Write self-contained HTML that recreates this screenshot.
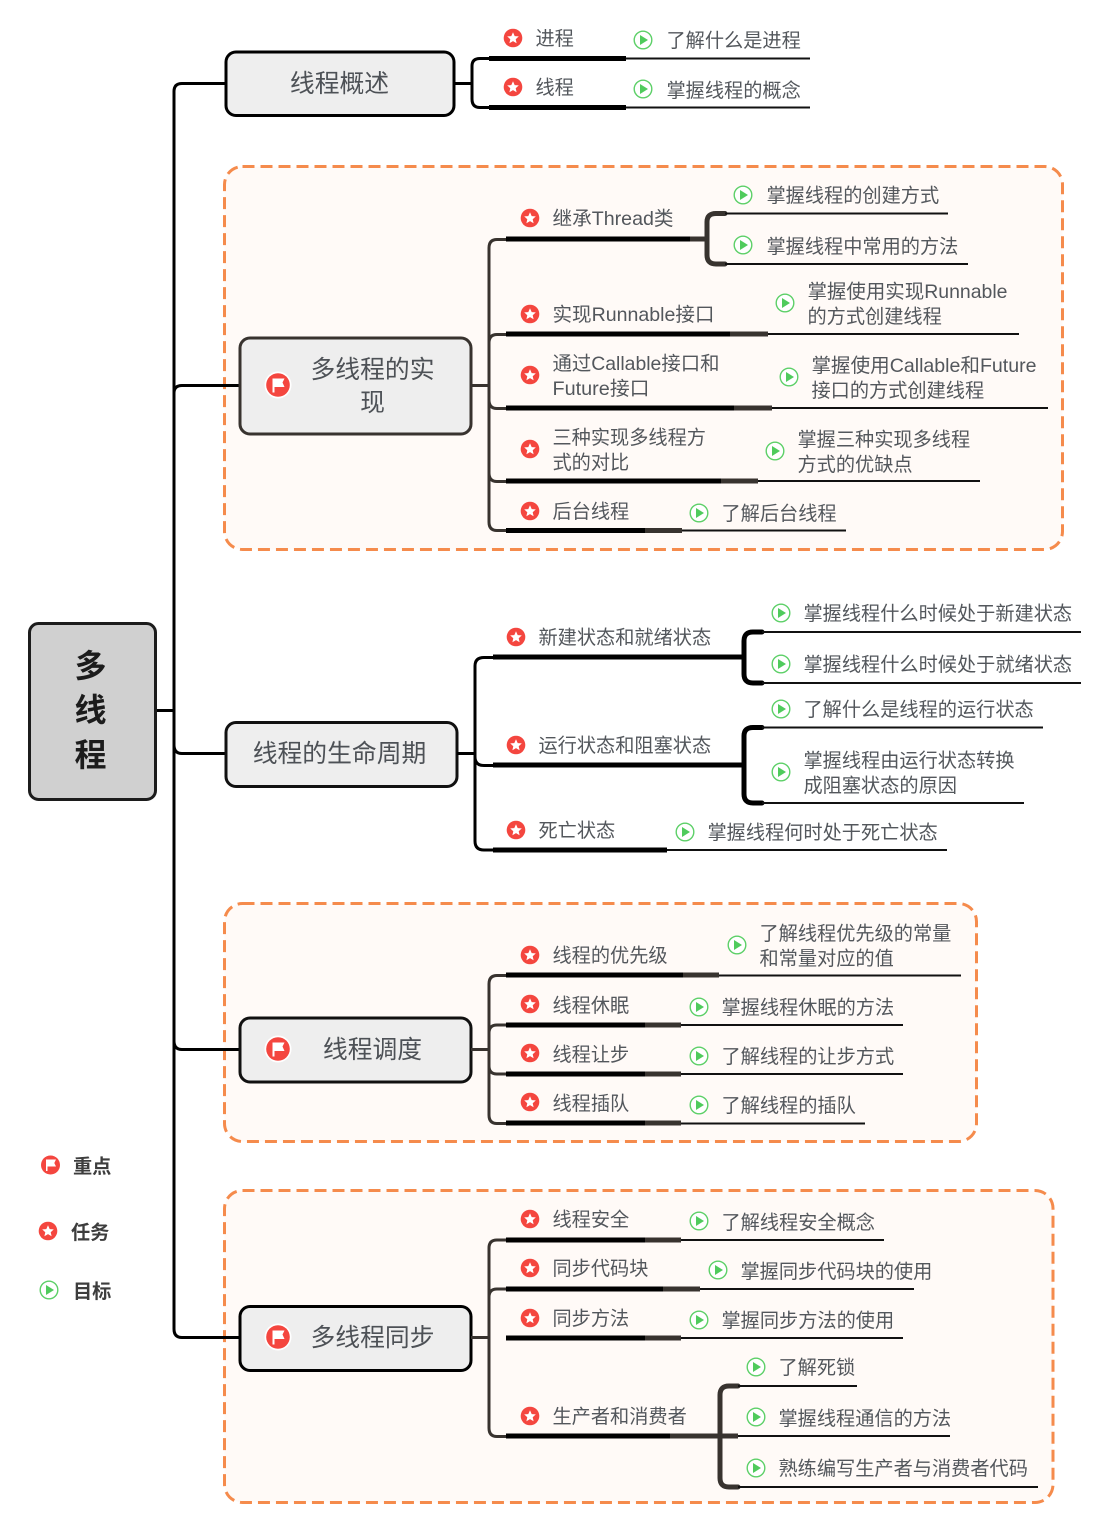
<!DOCTYPE html>
<html><head><meta charset="utf-8">
<style>
html,body{margin:0;padding:0;background:#fff}
svg{display:block}
text{font-family:"Liberation Sans","Noto Sans CJK SC",sans-serif;font-size:19.2px;fill:#53575c;transform:translateX(-.5px)}
.t{font-size:24.8px;text-anchor:middle;fill:#4d5156}
.r{font-size:32px;font-weight:bold;text-anchor:middle;fill:#1c1c1c}
.l{font-weight:bold;fill:#3d3d3d}
.g{fill:#fffaf7;stroke:#f58b4c;stroke-width:3;stroke-dasharray:12 6}
.b{fill:#eee;stroke-width:3}
.k{fill:none;stroke:#000;stroke-width:3}
.c{fill:none;stroke:#38332f;stroke-width:3}
.h{stroke:#000;stroke-width:5}
.d{stroke:#38332f;stroke-width:5}
.n{stroke:#111;stroke-width:2}
.br{fill:none;stroke:#38332f;stroke-width:5;stroke-linecap:round}
.bk{fill:none;stroke:#000;stroke-width:5;stroke-linecap:round}
</style></head><body>
<svg width="1105" height="1524" viewBox="0 0 1105 1524" xmlns="http://www.w3.org/2000/svg">
<defs>
<g id="s"><circle r="9.3" fill="#f4463f"/><polygon fill="#fff" points="0,-5.8 1.7,-1.9 5.8,-1.6 2.7,1.2 3.6,5.2 0,3.1 -3.6,5.2 -2.7,1.2 -5.8,-1.6 -1.7,-1.9"/></g>
<g id="p"><circle r="8.8" fill="#fff" stroke="#5dd068" stroke-width="1.4"/><polygon fill="#4fcb5c" points="-3,-5 5,0 -3,5"/></g>
<g id="f"><circle r="9.5" fill="#f4463f"/><path fill="#fff" d="M-4.5,-5.5H5.5L3.8,-2L5.5,1.5H-3V6H-4.5Z"/></g>
<g id="F"><circle r="13.5" fill="#fff"/><circle r="11.8" fill="#f4463f"/><path fill="#fff" d="M-5.5,-6.500H6.500L4.500,-2.500L6.500,2H-3.500V7.500H-5.500Z"/></g>
</defs>

<!-- groups -->
<rect class="g" x="224.500" y="166.500" width="838" height="383" rx="18"/>
<rect class="g" x="224.500" y="903.500" width="752" height="238" rx="18"/>
<rect class="g" x="224.500" y="1190.500" width="828.500" height="312" rx="18"/>

<!-- trunk -->
<path class="k" d="M156,710.500H174M226,83.500H182Q174,83.500 174,91.500V1329Q174,1337.500 182,1337.500H240M174,393Q174,385.500 182,385.500H240M174,745Q174,753.500 182,753.500H226M174,1041Q174,1049.500 182,1049.500H240"/>

<!-- root -->
<rect x="29.500" y="623.500" width="126" height="176" rx="9" fill="#d0d0d0" stroke="#1c1c1c" stroke-width="3"/>
<text class="r" x="91" y="677">多</text>
<text class="r" x="91" y="721">线</text>
<text class="r" x="91" y="766">程</text>

<!-- 线程概述 -->
<rect class="b" x="226" y="52" width="228" height="63.500" rx="10" stroke="#000"/>
<text class="t" x="340" y="92">线程概述</text>
<path class="k" d="M455,83.500H472M489,58.500H480Q472,58.500 472,66V99Q472,107.500 480,107.500H489"/>
<line class="h" x1="489" y1="58.500" x2="626" y2="58.500"/><line class="n" x1="626" y1="58.500" x2="810" y2="58.500"/>
<line class="h" x1="489" y1="107.500" x2="626" y2="107.500"/><line class="n" x1="626" y1="107.500" x2="810" y2="107.500"/>
<use href="#s" x="513" y="38"/><text x="536" y="45">进程</text>
<use href="#p" x="643" y="40"/><text x="667" y="47">了解什么是进程</text>
<use href="#s" x="513" y="87"/><text x="536" y="94">线程</text>
<use href="#p" x="643" y="89"/><text x="667" y="97">掌握线程的概念</text>

<!-- 多线程的实现 -->
<rect class="b" x="240" y="338" width="231" height="96" rx="10" stroke="#38332f"/>
<use href="#F" x="278" y="385"/>
<text class="t" x="373" y="378">多线程的实</text>
<text class="t" x="373" y="411">现</text>
<path class="c" d="M471,385.500H489M506,239.500H497Q489,239.500 489,248V522Q489,530.500 497,530.500H506M506,334.500H497Q489,334.500 489,343M489,400Q489,408.500 497,408.500H506M489,473Q489,481.500 497,481.500H506"/>

<line class="h" x1="506" y1="239" x2="690" y2="239"/><line class="d" x1="690" y1="239" x2="707" y2="239"/>
<path class="br" d="M725,213.500H716Q707,213.500 707,222V255Q707,264 716,264H725"/>
<line class="n" x1="725" y1="213.500" x2="948" y2="213.500"/><line class="n" x1="725" y1="264" x2="968" y2="264"/>
<use href="#s" x="530" y="218"/><text x="553" y="225" textLength="121" lengthAdjust="spacingAndGlyphs">继承Thread类</text>
<use href="#p" x="743" y="195"/><text x="767" y="202">掌握线程的创建方式</text>
<use href="#p" x="743" y="245"/><text x="767" y="253">掌握线程中常用的方法</text>

<line class="h" x1="506" y1="334" x2="730" y2="334"/><line class="d" x1="730" y1="334" x2="768" y2="334"/><line class="n" x1="768" y1="334" x2="1019" y2="334"/>
<use href="#s" x="530" y="314"/><text x="553" y="321" textLength="162" lengthAdjust="spacingAndGlyphs">实现Runnable接口</text>
<use href="#p" x="785" y="303"/><text x="808" y="298" textLength="200" lengthAdjust="spacingAndGlyphs">掌握使用实现Runnable</text><text x="808" y="323">的方式创建线程</text>

<line class="h" x1="506" y1="408" x2="734" y2="408"/><line class="d" x1="734" y1="408" x2="772" y2="408"/><line class="n" x1="772" y1="408" x2="1048" y2="408"/>
<use href="#s" x="530" y="375"/><text x="553" y="370" textLength="167" lengthAdjust="spacingAndGlyphs">通过Callable接口和</text><text x="553" y="395" textLength="97" lengthAdjust="spacingAndGlyphs">Future接口</text>
<use href="#p" x="789" y="377"/><text x="812" y="372" textLength="225" lengthAdjust="spacingAndGlyphs">掌握使用Callable和Future</text><text x="812" y="397">接口的方式创建线程</text>

<line class="h" x1="506" y1="481" x2="721" y2="481"/><line class="d" x1="721" y1="481" x2="758" y2="481"/><line class="n" x1="758" y1="481" x2="980" y2="481"/>
<use href="#s" x="530" y="449"/><text x="553" y="444">三种实现多线程方</text><text x="553" y="469">式的对比</text>
<use href="#p" x="775" y="451"/><text x="798" y="446">掌握三种实现多线程</text><text x="798" y="471">方式的优缺点</text>

<line class="h" x1="506" y1="530.500" x2="645" y2="530.500"/><line class="d" x1="645" y1="530.500" x2="682" y2="530.500"/><line class="n" x1="682" y1="530.500" x2="846" y2="530.500"/>
<use href="#s" x="530" y="511"/><text x="553" y="518">后台线程</text>
<use href="#p" x="699" y="513"/><text x="722" y="520">了解后台线程</text>

<!-- 线程的生命周期 -->
<rect class="b" x="226" y="722.500" width="231" height="64" rx="10" stroke="#111"/>
<text class="t" x="340" y="762">线程的生命周期</text>
<path class="k" d="M457,753.500H475M493,657.500H484Q475,657.500 475,666V841Q475,850 484,850H493M475,757Q475,765.500 484,765.500H493"/>
<line class="h" x1="493" y1="657" x2="743" y2="657"/><line class="h" x1="493" y1="765" x2="743" y2="765"/>
<path class="bk" d="M762,632H753Q744,632 744,641V674Q744,683 753,683H762"/>
<path class="bk" d="M762,727.500H753Q744,727.500 744,736V794Q744,803 753,803H762"/>
<line class="n" x1="762" y1="632" x2="1081" y2="632"/><line class="n" x1="762" y1="683" x2="1081" y2="683"/>
<line class="n" x1="762" y1="727.500" x2="1043" y2="727.500"/><line class="n" x1="762" y1="803" x2="1024" y2="803"/>
<line class="h" x1="493" y1="850" x2="667" y2="850"/><line class="n" x1="667" y1="850" x2="947" y2="850"/>
<use href="#s" x="516" y="637"/><text x="539" y="644">新建状态和就绪状态</text>
<use href="#p" x="781" y="613"/><text x="804" y="620">掌握线程什么时候处于新建状态</text>
<use href="#p" x="781" y="664"/><text x="804" y="671">掌握线程什么时候处于就绪状态</text>
<use href="#s" x="516" y="745"/><text x="539" y="752">运行状态和阻塞状态</text>
<use href="#p" x="781" y="709"/><text x="804" y="716">了解什么是线程的运行状态</text>
<use href="#p" x="781" y="772"/><text x="804" y="767">掌握线程由运行状态转换</text><text x="804" y="792">成阻塞状态的原因</text>
<use href="#s" x="516" y="830"/><text x="539" y="837">死亡状态</text>
<use href="#p" x="685" y="832"/><text x="708" y="839">掌握线程何时处于死亡状态</text>

<!-- 线程调度 -->
<rect class="b" x="240" y="1018" width="231" height="64" rx="10" stroke="#111"/>
<use href="#F" x="278" y="1049"/>
<text class="t" x="373" y="1058">线程调度</text>
<path class="c" d="M471,1049.500H489M506,975.500H497Q489,975.500 489,984V1115Q489,1123.500 497,1123.500H506M506,1025H497Q489,1025 489,1033M506,1074H497Q489,1074 489,1066"/>
<line class="h" x1="506" y1="975" x2="683" y2="975"/><line class="d" x1="683" y1="975" x2="719" y2="975"/><line class="n" x1="719" y1="975.500" x2="961" y2="975.500"/>
<use href="#s" x="530" y="955"/><text x="553" y="962">线程的优先级</text>
<use href="#p" x="737" y="945"/><text x="760" y="940">了解线程优先级的常量</text><text x="760" y="965">和常量对应的值</text>
<line class="h" x1="506" y1="1025" x2="645" y2="1025"/><line class="d" x1="645" y1="1025" x2="681" y2="1025"/><line class="n" x1="681" y1="1025" x2="903" y2="1025"/>
<use href="#s" x="530" y="1004"/><text x="553" y="1012">线程休眠</text>
<use href="#p" x="699" y="1007"/><text x="722" y="1014">掌握线程休眠的方法</text>
<line class="h" x1="506" y1="1074" x2="645" y2="1074"/><line class="d" x1="645" y1="1074" x2="681" y2="1074"/><line class="n" x1="681" y1="1074" x2="903" y2="1074"/>
<use href="#s" x="530" y="1053"/><text x="553" y="1061">线程让步</text>
<use href="#p" x="699" y="1056"/><text x="722" y="1063">了解线程的让步方式</text>
<line class="h" x1="506" y1="1123" x2="645" y2="1123"/><line class="d" x1="645" y1="1123" x2="681" y2="1123"/><line class="n" x1="681" y1="1123.500" x2="865" y2="1123.500"/>
<use href="#s" x="530" y="1102"/><text x="553" y="1110">线程插队</text>
<use href="#p" x="699" y="1105"/><text x="722" y="1112">了解线程的插队</text>

<!-- 多线程同步 -->
<rect class="b" x="240" y="1306.500" width="231" height="64" rx="10" stroke="#000"/>
<use href="#F" x="278" y="1337"/>
<text class="t" x="373" y="1346">多线程同步</text>
<path class="c" d="M471,1337.500H489M506,1240H497Q489,1240 489,1248V1428Q489,1436.500 497,1436.500H506M506,1289H497Q489,1289 489,1297"/>
<line class="h" x1="506" y1="1240" x2="645" y2="1240"/><line class="d" x1="645" y1="1240" x2="681" y2="1240"/><line class="n" x1="681" y1="1240" x2="884" y2="1240"/>
<use href="#s" x="530" y="1219"/><text x="553" y="1226">线程安全</text>
<use href="#p" x="699" y="1221"/><text x="722" y="1229">了解线程安全概念</text>
<line class="h" x1="506" y1="1289" x2="663" y2="1289"/><line class="d" x1="663" y1="1289" x2="700" y2="1289"/><line class="n" x1="700" y1="1289" x2="914" y2="1289"/>
<use href="#s" x="530" y="1268"/><text x="553" y="1275">同步代码块</text>
<use href="#p" x="718" y="1270"/><text x="741" y="1278">掌握同步代码块的使用</text>
<line class="h" x1="506" y1="1338" x2="645" y2="1338"/><line class="d" x1="645" y1="1338" x2="681" y2="1338"/><line class="n" x1="681" y1="1338" x2="903" y2="1338"/>
<use href="#s" x="530" y="1318"/><text x="553" y="1325">同步方法</text>
<use href="#p" x="699" y="1320"/><text x="722" y="1327">掌握同步方法的使用</text>
<line class="h" x1="506" y1="1436" x2="670" y2="1436"/><line class="d" x1="670" y1="1436" x2="738" y2="1436"/>
<path class="br" d="M738,1386H729Q720,1386 720,1395V1478Q720,1487 729,1487H738"/>
<line class="n" x1="738" y1="1386" x2="857" y2="1386"/><line class="n" x1="738" y1="1436" x2="950" y2="1436"/><line class="n" x1="738" y1="1487" x2="1038" y2="1487"/>
<use href="#s" x="530" y="1416"/><text x="553" y="1423">生产者和消费者</text>
<use href="#p" x="756" y="1367"/><text x="779" y="1374">了解死锁</text>
<use href="#p" x="756" y="1417"/><text x="779" y="1425">掌握线程通信的方法</text>
<use href="#p" x="756" y="1468"/><text x="779" y="1475">熟练编写生产者与消费者代码</text>

<!-- legend -->
<use href="#f" x="50.500" y="1165"/><text class="l" x="73.500" y="1173">重点</text>
<use href="#s" x="48" y="1231"/><text class="l" x="71.500" y="1239">任务</text>
<use href="#p" x="49" y="1290"/><text class="l" x="73.500" y="1298">目标</text>
</svg>
</body></html>
